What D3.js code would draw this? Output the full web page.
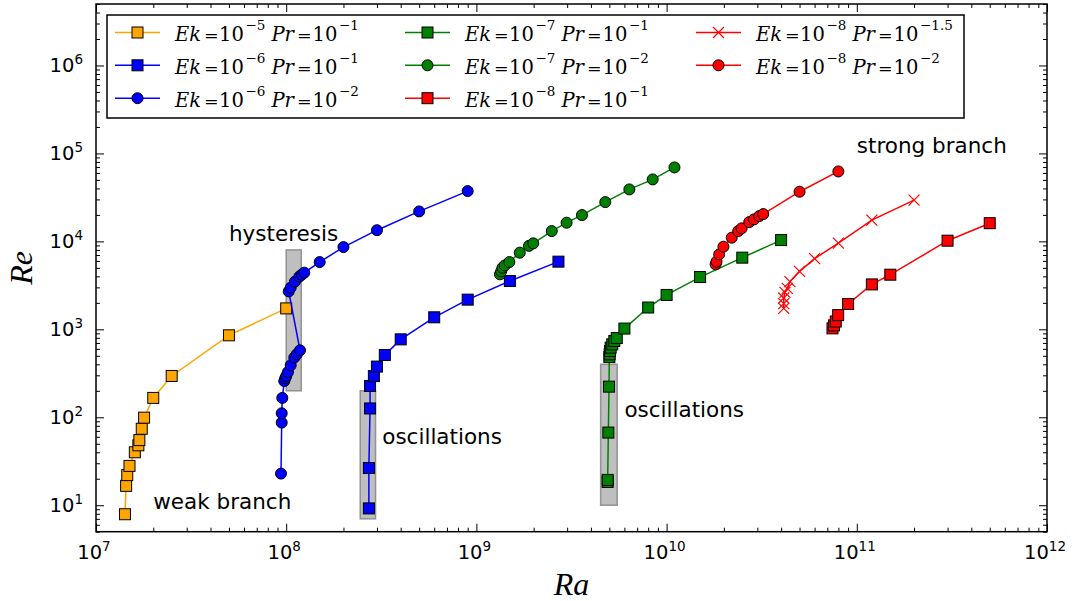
<!DOCTYPE html>
<html>
<head>
<meta charset="utf-8">
<script src="https://cdn.jsdelivr.net/npm/d3@7"></script>
<style>
  body { margin: 0; background: #fff; }
  svg { display: block; }
</style>
</head>
<body>
<svg id="chart" width="1073" height="601"></svg>
<script>
// ---- data: Reynolds number vs Rayleigh number for each (Ek, Pr) run ----
const raEk5Pr1 = [1.42e7, 1.44e7, 1.46e7, 1.5e7, 1.6e7, 1.67e7, 1.69e7, 1.74e7, 1.79e7, 2e7, 2.5e7, 5e7, 1e8];
const reEk5Pr1 = [7.9, 16.6, 22, 28, 40, 48, 55, 74, 99, 166, 295, 855, 1730];

const raEk6Pr1 = [2.72e8, 2.72e8, 2.76e8, 2.76e8, 2.89e8, 3e8, 3.3e8, 4e8, 6e8, 9e8, 1.5e9, 2.7e9];
const reEk6Pr1 = [9.2, 26.5, 126, 227, 294, 377, 511, 769, 1370, 2175, 3540, 5880];

const raEk6Pr2 = [9.39e7, 9.47e7, 9.47e7, 9.54e7, 9.77e7, 9.89e7, 1.0e8, 1.022e8, 1.056e8, 1.103e8, 1.136e8, 1.182e8,
                  1.031e8, 1.056e8, 1.112e8, 1.172e8, 1.206e8, 1.245e8, 1.5e8, 2e8, 3e8, 5e8, 9e8];
const reEk6Pr2 = [22.9, 87, 111, 166, 258, 277, 294, 327, 390, 477, 520, 577,
                  2700, 2980, 3490, 3970, 4180, 4410, 5820, 8610, 13400, 21900, 37300];

const raEk7Pr1 = [4.9e9, 4.9e9, 4.94e9, 4.98e9, 5.0e9, 5.02e9, 5.04e9, 5.08e9, 5.18e9, 5.31e9, 5.47e9, 6e9, 8e9, 1e10, 1.5e10, 2.5e10, 4e10];
const reEk7Pr1 = [18.4, 19.4, 67, 223, 484, 520, 567, 619, 675, 736, 796, 1020, 1770, 2460, 3930, 6530, 10350];

const raEk7Pr2 = [1.33e9, 1.35e9, 1.37e9, 1.41e9, 1.49e9, 1.69e9, 1.89e9, 1.99e9, 2.49e9, 2.98e9, 3.59e9, 4.76e9, 6.37e9, 8.45e9, 1.1e10];
const reEk7Pr2 = [4220, 4560, 5000, 5330, 5820, 7440, 8890, 9490, 13090, 16310, 19900, 27960, 38990, 50640, 69300];

const raEk8Pr1 = [7.45e10, 7.59e10, 7.75e10, 7.98e10, 9e10, 1.2e11, 1.5e11, 3e11, 5e11];
const reEk8Pr1 = [1026, 1109, 1226, 1450, 1940, 3240, 4180, 10180, 16100];

const raEk8Pr15 = [4.13e10, 4.13e10, 4.13e10, 4.19e10, 4.31e10, 4.45e10, 5e10, 6e10, 8e10, 1.2e11, 2e11];
const reEk8Pr15 = [1730, 1960, 2270, 2630, 2920, 3490, 4560, 6375, 9570, 17420, 29400];

const raEk8Pr2 = [1.81e10, 1.83e10, 1.89e10, 1.99e10, 2.2e10, 2.38e10, 2.48e10, 2.72e10, 2.88e10, 3.07e10, 3.22e10, 5e10, 8e10];
const reEk8Pr2 = [5480, 5880, 7110, 8700, 11020, 13090, 14060, 16570, 17780, 19390, 20420, 36700, 62400];

// series order, colours, markers and legend exponents
const seriesRa = [raEk5Pr1, raEk6Pr1, raEk6Pr2, raEk7Pr1, raEk7Pr2, raEk8Pr1, raEk8Pr15, raEk8Pr2];
const seriesRe = [reEk5Pr1, reEk6Pr1, reEk6Pr2, reEk7Pr1, reEk7Pr2, reEk8Pr1, reEk8Pr15, reEk8Pr2];
const seriesColor = ["#FFA500", "#0000FF", "#0000FF", "#008000", "#008000", "#FF0000", "#FF0000", "#FF0000"];
const seriesMarker = ["square", "square", "circle", "square", "circle", "square", "cross", "circle"];
const ekExponent = ["\u22125", "\u22126", "\u22126", "\u22127", "\u22127", "\u22128", "\u22128", "\u22128"];
const prExponent = ["\u22121", "\u22121", "\u22122", "\u22121", "\u22122", "\u22121", "\u22121.5", "\u22122"];

// shaded regions [raMin, raMax], [reMin, reMax]
const boxRa = [[1e8, 1.2e8], [2.45e8, 2.95e8], [4.5e9, 5.5e9]];
const boxRe = [[200, 8000], [7, 200], [10, 400]];

// annotations (left/baseline anchored at data position)
const noteText = ["hysteresis", "weak branch", "oscillations", "oscillations", "strong branch"];
const noteRa = [5e7, 2e7, 3.2e8, 6e9, 1e11];
const noteRe = [1e4, 9, 50, 100, 1e5];

const xMajorExp = [7, 8, 9, 10, 11, 12];
const yMajorExp = [1, 2, 3, 4, 5, 6];

// ---- layout ----
const svg = d3.select("#chart");
const plotLeft = 96, plotRight = 1047, plotTop = 4, plotBottom = 531.7;

const x = d3.scaleLog().domain([1e7, 1e12]).range([plotLeft, plotRight]);
const y = d3.scaleLog().domain([5, 5e6]).range([plotBottom, plotTop]);

const serifMath = "'Liberation Serif', 'Times New Roman', serif";
const serifWide = "'DejaVu Serif', serif";
const sans = "'DejaVu Sans', sans-serif";

// shaded boxes under the data
svg.append("g").selectAll("rect").data(boxRa).join("rect")
  .attr("x", (d) => x(d[0]))
  .attr("width", (d) => x(d[1]) - x(d[0]))
  .attr("y", (d, i) => y(boxRe[i][1]))
  .attr("height", (d, i) => y(boxRe[i][0]) - y(boxRe[i][1]))
  .attr("fill", "#808080").attr("fill-opacity", 0.5)
  .attr("stroke", "#808080").attr("stroke-opacity", 0.8).attr("stroke-width", 1.5);

// markers
const mSize = 11;
function drawMarker(g, kind, color, cx, cy, size) {
  if (kind === "square") {
    g.append("rect")
      .attr("x", cx - size / 2).attr("y", cy - size / 2)
      .attr("width", size).attr("height", size)
      .attr("fill", color).attr("stroke", "#000").attr("stroke-width", 1);
  } else if (kind === "circle") {
    g.append("circle")
      .attr("cx", cx).attr("cy", cy).attr("r", size / 2)
      .attr("fill", color).attr("stroke", "#000").attr("stroke-width", 1);
  } else {
    const h = size / 2;
    g.append("path")
      .attr("d", `M${cx - h},${cy - h}L${cx + h},${cy + h}M${cx - h},${cy + h}L${cx + h},${cy - h}`)
      .attr("stroke", color).attr("stroke-width", 1.2).attr("fill", "none");
  }
}

const line = d3.line().x((d) => x(d[0])).y((d) => y(d[1]));

seriesRa.forEach((ra, s) => {
  const pts = ra.map((v, i) => [v, seriesRe[s][i]]);
  const g = svg.append("g");
  g.append("path").datum(pts)
    .attr("d", line)
    .attr("fill", "none").attr("stroke", seriesColor[s]).attr("stroke-width", 1.5);
  pts.forEach((p) => drawMarker(g, seriesMarker[s], seriesColor[s], x(p[0]), y(p[1]), mSize));
});

// annotations
svg.append("g").selectAll("text").data(noteText).join("text")
  .attr("x", (d, i) => x(noteRa[i]))
  .attr("y", (d, i) => y(noteRe[i]))
  .attr("font-family", sans).attr("font-size", 21.5).attr("fill", "#000")
  .text((d) => d);

// ---- axes: inward ticks on all four sides ----
const minorVals = (lo, hi) => {
  const out = [];
  for (let e = lo; e < hi; e++) for (let m = 2; m <= 9; m++) out.push(m * Math.pow(10, e));
  return out;
};
const xMajor = xMajorExp.map((e) => Math.pow(10, e));
const yMajor = yMajorExp.map((e) => Math.pow(10, e));
const xMinor = minorVals(7, 12);
const yMinor = minorVals(0, 7).filter((v) => v >= 5 && v <= 5e6);

function tickAxis(axisFn, scale, vals, size, transform) {
  const g = svg.append("g").attr("transform", transform)
    .call(axisFn(scale).tickValues(vals).tickSize(size).tickFormat(""));
  g.select(".domain").remove();
  g.selectAll(".tick line").attr("stroke", "#000").attr("stroke-width", 1);
  return g;
}
tickAxis(d3.axisBottom, x, xMajor, -8, `translate(0,${plotBottom})`);
tickAxis(d3.axisBottom, x, xMinor, -4, `translate(0,${plotBottom})`);
tickAxis(d3.axisTop, x, xMajor, -8, `translate(0,${plotTop})`);
tickAxis(d3.axisTop, x, xMinor, -4, `translate(0,${plotTop})`);
tickAxis(d3.axisLeft, y, yMajor, -8, `translate(${plotLeft},0)`);
tickAxis(d3.axisLeft, y, yMinor, -4, `translate(${plotLeft},0)`);
tickAxis(d3.axisRight, y, yMajor, -8, `translate(${plotRight},0)`);
tickAxis(d3.axisRight, y, yMinor, -4, `translate(${plotRight},0)`);

// frame
svg.append("rect")
  .attr("x", plotLeft).attr("y", plotTop)
  .attr("width", plotRight - plotLeft).attr("height", plotBottom - plotTop)
  .attr("fill", "none").attr("stroke", "#000").attr("stroke-width", 1.5);

// tick labels as 10^n
function powLabel(g, exp) {
  g.append("tspan").text("10");
  g.append("tspan").attr("font-size", 13.5).attr("dy", -8).text(exp);
}
xMajorExp.forEach((e) => {
  const t = svg.append("text")
    .attr("x", x(Math.pow(10, e)) - 2).attr("y", plotBottom + 27)
    .attr("text-anchor", "middle")
    .attr("font-family", sans).attr("font-size", 19.5).attr("fill", "#000");
  powLabel(t, e);
});
yMajorExp.forEach((e) => {
  const t = svg.append("text")
    .attr("x", plotLeft - 13).attr("y", y(Math.pow(10, e)) + 7)
    .attr("text-anchor", "end")
    .attr("font-family", sans).attr("font-size", 19.5).attr("fill", "#000");
  powLabel(t, e);
});

// axis titles
svg.append("text")
  .attr("x", (plotLeft + plotRight) / 2).attr("y", 595)
  .attr("text-anchor", "middle")
  .attr("font-family", serifMath).attr("font-style", "italic").attr("font-size", 32)
  .text("Ra");
svg.append("text")
  .attr("transform", `translate(32,${(plotTop + plotBottom) / 2}) rotate(-90)`)
  .attr("text-anchor", "middle")
  .attr("font-family", serifMath).attr("font-style", "italic").attr("font-size", 32)
  .text("Re");

// ---- legend ----
const legend = svg.append("g");
legend.append("rect")
  .attr("x", 107).attr("y", 15).attr("width", 857).attr("height", 103)
  .attr("fill", "#fff").attr("stroke", "#000").attr("stroke-width", 1.5);

const colX = [115, 405, 696];
const rowY = [32.5, 65.3, 98.2];
// horizontal offsets / sizes of each part of "Ek=10^a Pr=10^b" from the label start
const partDx = [0, 29, 44, 70.5, 96.5, 122, 137.5, 164];
const partSize = [19.5, 17.5, 19.5, 13.5, 19.5, 17.5, 19.5, 13.5];
seriesRa.forEach((ra, s) => {
  const col = Math.floor(s / 3), row = s % 3;
  const lx = colX[col], ly = rowY[row];
  const g = legend.append("g");
  g.append("line").attr("x1", lx).attr("x2", lx + 45).attr("y1", ly).attr("y2", ly)
    .attr("stroke", seriesColor[s]).attr("stroke-width", 1.5);
  drawMarker(g, seriesMarker[s], seriesColor[s], lx + 22.5, ly, mSize);

  const tx = lx + 60, base = ly + 8.5, supBase = ly - 2.5;
  const parts = [
    ["Ek", true, false], ["=", false, false], ["10", false, false], [ekExponent[s], false, true],
    ["Pr", true, false], ["=", false, false], ["10", false, false], [prExponent[s], false, true]
  ];
  const t = g.append("text")
    .attr("font-family", serifWide).attr("fill", "#000");
  parts.forEach((p, k) => {
    t.append("tspan")
      .attr("x", tx + partDx[k])
      .attr("y", p[2] ? supBase : base)
      .attr("font-style", p[1] ? "italic" : "normal")
      .attr("font-size", partSize[k])
      .text(p[0]);
  });
});
</script>
</body>
</html>
